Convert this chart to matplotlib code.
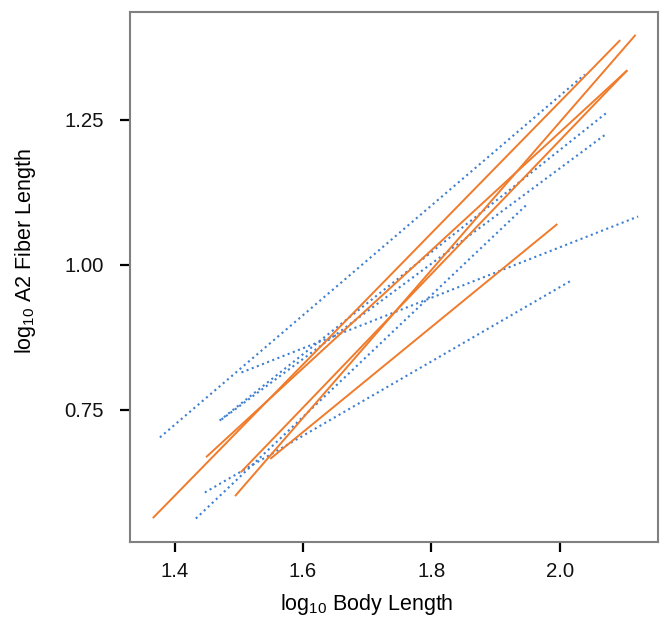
import matplotlib
matplotlib.use('Agg')
import matplotlib.pyplot as plt

plt.rcParams['font.family'] = ['Liberation Sans', 'DejaVu Sans']
plt.rcParams['mathtext.fontset'] = 'custom'
plt.rcParams['mathtext.rm'] = 'Liberation Sans'
plt.rcParams['mathtext.default'] = 'regular'

# regression lines, one start/end per line (log10 body length, log10 fiber length)
solid_x0 = [1.367, 1.450, 1.495, 1.504, 1.550]
solid_y0 = [0.564, 0.669, 0.602, 0.643, 0.666]
solid_x1 = [2.093, 2.104, 2.117, 2.104, 1.995]
solid_y1 = [1.386, 1.334, 1.395, 1.334, 1.069]

dotted_x0 = [1.377, 1.470, 1.473, 1.504, 1.447, 1.433]
dotted_y0 = [0.702, 0.731, 0.733, 0.814, 0.607, 0.562]
dotted_x1 = [2.039, 2.073, 2.073, 2.122, 2.017, 1.950]
dotted_y1 = [1.328, 1.262, 1.226, 1.083, 0.972, 1.105]

xticks = [1.4, 1.6, 1.8, 2.0]
yticks = [0.75, 1.00, 1.25]

fig = plt.figure(figsize=(6.62, 6.22), dpi=100)
ax = fig.add_axes([0.196, 0.129, 0.798, 0.852])

# dotted (blue) lines first, solid orange on top
for x0, y0, x1, y1 in zip(dotted_x0, dotted_y0, dotted_x1, dotted_y1):
    ax.plot([x0, x1], [y0, y1], color='#3f7fcf', linestyle=':', linewidth=1.5)
for x0, y0, x1, y1 in zip(solid_x0, solid_y0, solid_x1, solid_y1):
    ax.plot([x0, x1], [y0, y1], color='#f07b2b', linestyle='-', linewidth=1.4)

ax.set_xlim(1.330, 2.153)
ax.set_ylim(0.522, 1.436)
ax.set_xticks(xticks)
ax.set_xticklabels(['%.1f' % v for v in xticks])
ax.set_yticks(yticks)
ax.set_yticklabels(['%.2f' % v for v in yticks])

for s in ax.spines.values():
    s.set_color('#808080')
    s.set_linewidth(1.5)
ax.tick_params(axis='both', length=7.5, width=1.6, color='black',
               labelsize=14.7, labelcolor='#111111')
ax.tick_params(axis='x', pad=7)
ax.tick_params(axis='y', pad=11)

ax.set_xlabel(r'log$_{10}$ Body Length', fontsize=15.5, labelpad=8, x=0.449)
ax.set_ylabel(r'log$_{10}$ A2 Fiber Length', fontsize=15.5, labelpad=19, y=0.549)

fig.savefig('out.png', dpi=100)
